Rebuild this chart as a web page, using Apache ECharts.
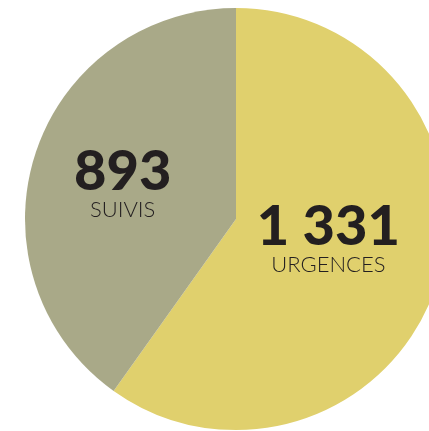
<!DOCTYPE html>
<html><head><meta charset="utf-8">
<script src="https://cdn.jsdelivr.net/npm/echarts@6/dist/echarts.min.js"></script>
<style>html,body{margin:0;padding:0;background:#fff}#c{width:429px;height:431px}</style>
</head><body><div id="c"></div>
<script>
const categories = ["URGENCES", "SUIVIS"];
const values = [1331, 893];
const colors = ["#E0D06D", "#A9A988"];

function fmt(v){ return String(v).replace(/\B(?=(\d{3})+(?!\d))/g, " "); }

const chart = echarts.init(document.getElementById('c'), null, {renderer:'canvas'});
chart.setOption({
  animation: false,
  series: [{
    type: 'pie',
    center: [236, 219],
    radius: 211,
    startAngle: 90,
    clockwise: true,
    silent: true,
    data: categories.map((c, i) => ({name: c, value: values[i], itemStyle: {color: colors[i]}})),
    label: {
      show: true,
      position: 'inner',
      formatter: p => '{a|' + fmt(p.value) + '}\n{b|' + p.name + '}',
      rich: {
        a: {fontFamily: 'Lato', fontWeight: 900, fontSize: 56, color: '#231F20', lineHeight: 54, align: 'center'},
        b: {fontFamily: 'Lato', fontWeight: 300, fontSize: 22, color: '#231F20', lineHeight: 22, align: 'center'}
      }
    },
    labelLine: {show: false},
    labelLayout: function (params) {
      const off = [[-11, -14], [-10, -3]][params.dataIndex];
      return {dx: off[0], dy: off[1]};
    }
  }]
});
</script></body></html>
